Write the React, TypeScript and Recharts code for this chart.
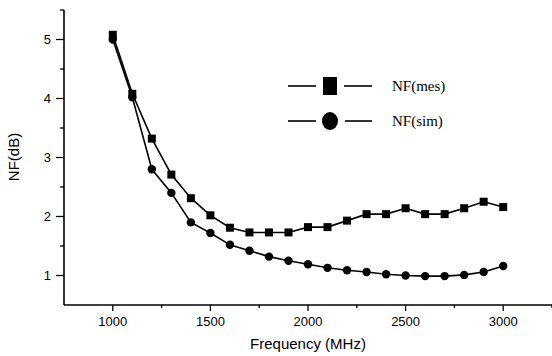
import React from 'react'
import { LineChart, Line, XAxis, YAxis } from 'recharts'

const frequencies = [1000, 1100, 1200, 1300, 1400, 1500, 1600, 1700, 1800, 1900, 2000, 2100, 2200, 2300, 2400, 2500, 2600, 2700, 2800, 2900, 3000]
const nfMes = [5.08, 4.08, 3.32, 2.71, 2.31, 2.02, 1.81, 1.73, 1.73, 1.73, 1.82, 1.82, 1.93, 2.04, 2.04, 2.14, 2.04, 2.04, 2.14, 2.25, 2.16]
const nfSim = [5.0, 4.02, 2.8, 2.4, 1.9, 1.72, 1.52, 1.42, 1.32, 1.25, 1.19, 1.13, 1.09, 1.06, 1.02, 1.0, 0.99, 0.99, 1.01, 1.06, 1.16]

const xTicks = [1000, 1250, 1500, 1750, 2000, 2250, 2500, 2750, 3000, 3250]
const yTicks = [1, 1.5, 2, 2.5, 3, 3.5, 4, 4.5, 5, 5.5]

const data = frequencies.map((f, i) => ({ f, mes: nfMes[i], sim: nfSim[i] }))

const SANS = '"Liberation Sans", Arial, sans-serif'
const SERIF = '"Liberation Serif", "Times New Roman", serif'

function XTick({ x, y, payload }: any) {
  const major = payload.value % 500 === 0
  return (
    <g>
      <line x1={x} x2={x} y1={y} y2={y + (major ? 6 : 3)} stroke="#000" strokeWidth={1.3} />
      {major && (
        <text x={x} y={y + 21} textAnchor="middle" fontFamily={SANS} fontSize={13} fill="#000">
          {payload.value}
        </text>
      )}
    </g>
  )
}

function YTick({ x, y, payload }: any) {
  const major = Number.isInteger(payload.value)
  return (
    <g>
      <line x1={x} x2={x - (major ? 8 : 4)} y1={y} y2={y} stroke="#000" strokeWidth={1.3} />
      {major && (
        <text x={x - 13} y={y + 4.5} textAnchor="end" fontFamily={SANS} fontSize={13} fill="#000">
          {payload.value}
        </text>
      )}
    </g>
  )
}

function SquareDot({ cx, cy, index }: any) {
  return <rect key={`s${index}`} x={cx - 4} y={cy - 4} width={8} height={8} fill="#000" />
}

function CircleDot({ cx, cy, index }: any) {
  return <circle key={`c${index}`} cx={cx} cy={cy} r={4.2} fill="#000" />
}

function LegendBox() {
  return (
    <svg width={170} height={60} style={{ position: 'absolute', left: 288, top: 70 }}>
      <line x1={0} x2={28} y1={16} y2={16} stroke="#000" strokeWidth={1.6} />
      <rect x={35} y={7} width={14} height={18} fill="#000" />
      <line x1={56} x2={84} y1={16} y2={16} stroke="#000" strokeWidth={1.6} />
      <text x={104} y={21} fontFamily={SERIF} fontSize={15} fill="#000">NF(mes)</text>
      <line x1={0} x2={28} y1={51} y2={51} stroke="#000" strokeWidth={1.6} />
      <ellipse cx={42} cy={51} rx={8} ry={9} fill="#000" />
      <line x1={57} x2={84} y1={51} y2={51} stroke="#000" strokeWidth={1.6} />
      <text x={104} y={56} fontFamily={SERIF} fontSize={15} fill="#000">NF(sim)</text>
    </svg>
  )
}

export default function App() {
  return (
    <div style={{ position: 'absolute', left: 0, top: 0, width: 552, height: 356, background: '#fff' }}>
      <LineChart width={552} height={356} data={data} margin={{ top: 10, right: 0, bottom: 0, left: 0 }}>
        <XAxis
          dataKey="f"
          type="number"
          domain={[750, 3250]}
          ticks={xTicks}
          interval={0}
          tick={<XTick />}
          tickLine={false}
          tickSize={0}
          tickMargin={0}
          height={51}
          axisLine={{ stroke: '#000', strokeWidth: 1.6 }}
          label={{
            content: () => (
              <text x={308} y={349} textAnchor="middle" fontFamily={SANS} fontSize={15} fill="#000">
                Frequency (MHz)
              </text>
            ),
          }}
        />
        <YAxis
          type="number"
          domain={[0.5, 5.5]}
          ticks={yTicks}
          interval={0}
          tick={<YTick />}
          tickLine={false}
          tickSize={0}
          tickMargin={0}
          width={64}
          axisLine={{ stroke: '#000', strokeWidth: 1.6 }}
          label={{
            content: () => (
              <text x={19} y={157} textAnchor="middle" fontFamily={SANS} fontSize={15} fill="#000" transform="rotate(-90 19 157)">
                NF(dB)
              </text>
            ),
          }}
        />
        <Line dataKey="mes" stroke="#000" strokeWidth={1.6} dot={<SquareDot />} activeDot={false} isAnimationActive={false} />
        <Line dataKey="sim" stroke="#000" strokeWidth={1.6} dot={<CircleDot />} activeDot={false} isAnimationActive={false} />
      </LineChart>
      <LegendBox />
    </div>
  )
}
